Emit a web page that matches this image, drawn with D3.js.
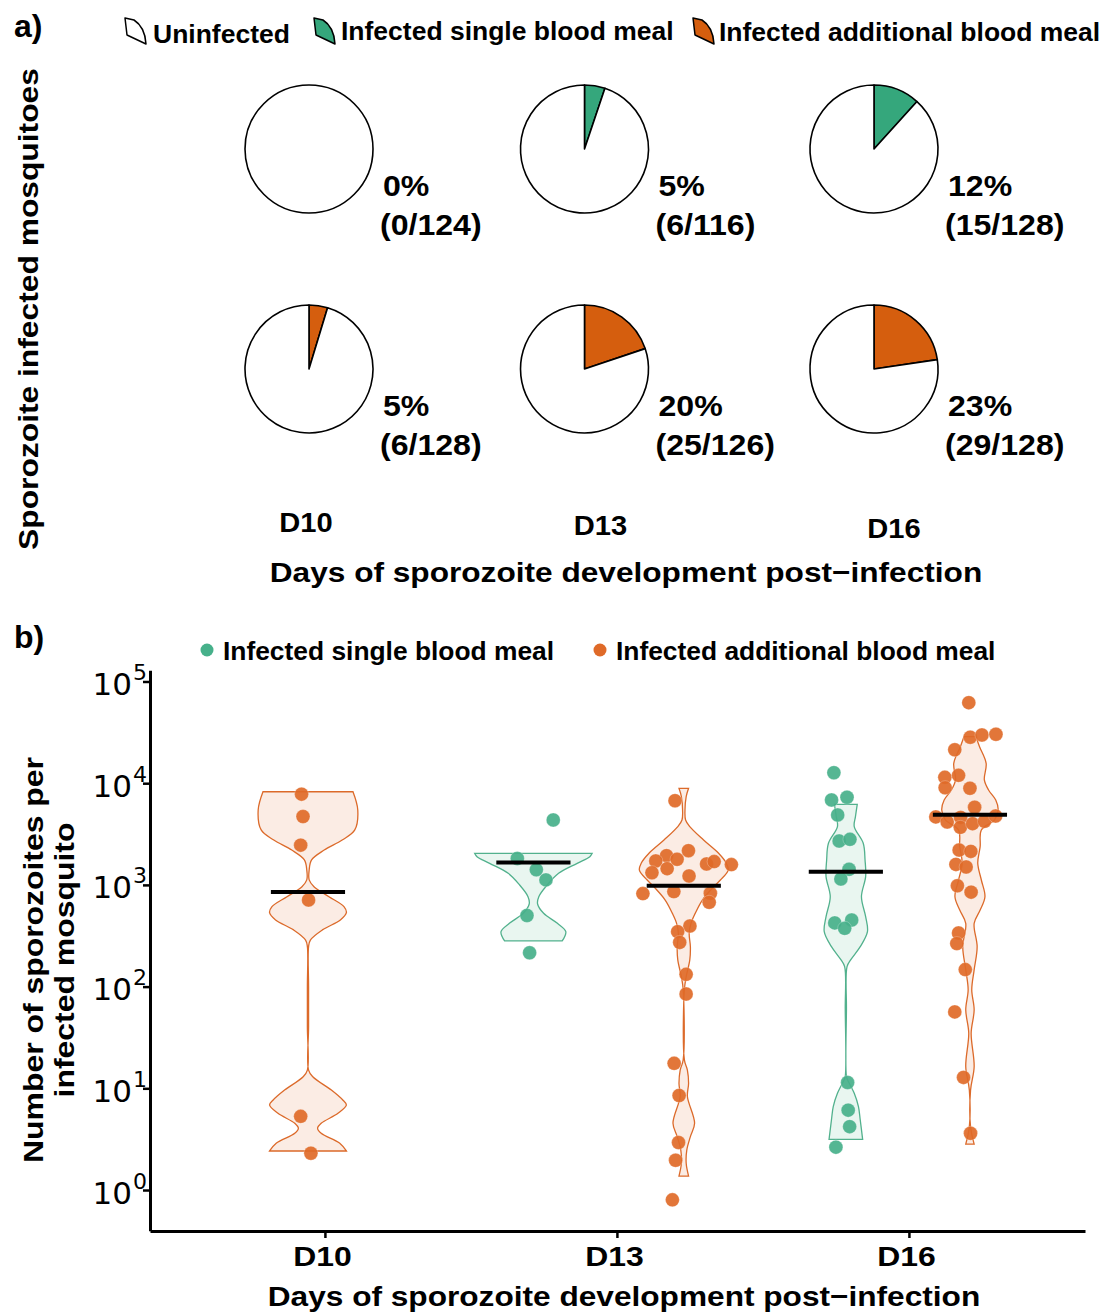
<!DOCTYPE html>
<html>
<head>
<meta charset="utf-8">
<script src="https://cdn.jsdelivr.net/npm/d3@7"></script>
<style>
  body { margin: 0; background: #fff; }
  svg { font-family: 'Liberation Sans', Arial, sans-serif; }
</style>
</head>
<body>
<div id="chart"></div>
<script>
// ---- data ----
var days = ['D10', 'D13', 'D16'];

// panel a: sporozoite infected / dissected
var singleInfected = [0, 6, 15];
var singleTotal = [124, 116, 128];
var additionalInfected = [6, 25, 29];
var additionalTotal = [128, 126, 128];

// panel b: sporozoites per infected mosquito [value, x jitter]
var d10AddPts = [[7800,-0.022],[4700,-0.017],[2460,-0.025],[710,0.002],[5.3,-0.025],[2.3,0.010]];
var d13SinglePts = [[4350,0.068],[1820,-0.055],[1410,0.010],[1120,0.043],[500,-0.022],[215,-0.013]];
var d13AddPts = [[6730,-0.030],[2170,0.016],[1940,-0.059],[1720,-0.096],[1785,-0.023],[1607,0.078],
  [1695,0.104],[1583,0.163],[1318,-0.109],[1445,-0.057],[1224,0.018],[821,-0.140],[859,-0.034],
  [827,0.091],[674,0.087],[394,0.021],[347,-0.021],[272,-0.014],[132,0.008],[84.5,0.008],
  [17.6,-0.033],[8.5,-0.016],[2.93,-0.018],[1.96,-0.028],[0.80,-0.039]];
var d16SinglePts = [[12680,-0.041],[6840,-0.049],[7270,0.004],[4870,-0.028],[2700,-0.023],
  [2806,0.014],[1423,0.011],[1143,-0.017],[423,-0.038],[451,0.020],[374,-0.004],[11.4,0.006],
  [6.1,0.008],[4.2,0.013],[2.64,-0.034]];
var d16AddPts = [[61900,-0.004],[28300,0.001],[29800,0.041],[30270,0.089],[21300,-0.052],
  [11420,-0.086],[11950,-0.039],[9030,-0.085],[8910,0],[5800,0.016],[4660,-0.117],[4160,-0.078],
  [4610,-0.032],[3680,-0.033],[4000,0.009],[4215,0.050],[4755,0.088],[2200,-0.037],[2135,0.003],
  [1590,-0.048],[1500,-0.013],[980,-0.043],[849,0.004],[337,-0.039],[265,-0.045],[147,-0.016],
  [56.4,-0.052],[12.8,-0.022],[3.61,0.002]];

// violin outlines [value, relative density]
var d10AddViolin = [[8240,0.75],[5460,0.83],[3470,0.78],[2760,0.57],[2200,0.27],[1760,0.06],
  [1400,0.02],[1120,0.02],[960,0.10],[766,0.35],[611,0.60],[533,0.64],[452,0.54],[361,0.24],
  [287,0.04],[247,0.01],[100,0.01],[40,0.01],[15.1,0.01],[13.0,0.08],[9.6,0.39],[7.67,0.58],
  [6.85,0.64],[5.68,0.5],[4.53,0.22],[4.05,0.16],[3.61,0.22],[2.88,0.53],[2.42,0.64]];
var d13SingleViolin = [[2046,0.98],[1895,0.94],[1630,0.73],[1300,0.42],[998,0.23],[766,0.09],
  [649,0.07],[526,0.17],[419,0.40],[347,0.54],[281,0.48]];
var d13AddViolin = [[8910,0.08],[7380,0.04],[5460,0.02],[4350,0.03],[3740,0.10],[2760,0.33],
  [2045,0.58],[1630,0.71],[1400,0.74],[1117,0.61],[961,0.50],[710,0.31],[525,0.19],[419,0.12],
  [334,0.09],[247,0.11],[183,0.10],[125,0.04],[93,0.01],[19,0.01],[15.1,0.06],[11.2,0.08],
  [8.3,0.06],[4.53,0.18],[3.35,0.11],[2.47,0.05],[1.83,0.04],[1.37,0.08]];
var d16SingleViolin = [[6200,0.19],[4690,0.16],[3740,0.14],[2565,0.29],[1757,0.32],[1206,0.33],
  [766,0.26],[487,0.33],[347,0.36],[247,0.24],[183,0.08],[157,0.02],[60,0.01],[13.0,0.01],
  [12.1,0.03],[8.93,0.14],[6.61,0.21],[4.88,0.24],[3.15,0.28]];
var d16AddViolin = [[28640,0.10],[22860,0.16],[15670,0.27],[10760,0.24],[8570,0.31],[6840,0.43],
  [5460,0.47],[4350,0.41],[3470,0.19],[2380,0.17],[1630,0.13],[1117,0.19],[766,0.25],[566,0.17],
  [419,0.07],[247,0.12],[146,0.07],[93,0.03],[59,0.07],[34.8,0.02],[16.3,0.07],[9.6,0.01],
  [4.2,0.01],[2.83,0.07]];

var medians = [850, 1660, 982, 1349, 4900];
var yTicks = [1, 10, 100, 1000, 10000, 100000];

// ---- layout ----
var svgWidth = 1114, svgHeight = 1312;
var green = '#35a77c', orange = '#d55e0e';
var ptGreen = '#46b08a', ptOrange = '#df6a28';
var font = "'Liberation Sans', Arial, sans-serif";

var svg = d3.select('#chart').append('svg')
  .attr('width', svgWidth).attr('height', svgHeight);

// bold text, stretched a bit horizontally like the original figure
function label(parent, x, y, str, size, sx, anchor, rot) {
  return parent.append('text')
    .attr('transform', 'translate(' + x + ',' + y + ')' + (rot ? ' rotate(' + rot + ')' : '') + ' scale(' + sx + ',1)')
    .attr('text-anchor', anchor || 'start')
    .attr('font-family', font).attr('fill', '#000')
    .attr('font-size', size).attr('font-weight', 'bold')
    .text(str);
}

// ===== panel a =====
label(svg, 14, 37, 'a)', 32, 1);

var wedge = 'M0,0 L9,2 Q20,9 21,26 L2,17 Z';
var legendA = [
  {label: 'Uninfected', fill: '#fff', x: 125, tx: 153, ty: 43},
  {label: 'Infected single blood meal', fill: green, x: 314, tx: 341, ty: 40},
  {label: 'Infected additional blood meal', fill: orange, x: 693, tx: 719, ty: 41}
];
legendA.forEach(function(d){
  svg.append('path').attr('d', wedge)
    .attr('transform', 'translate(' + d.x + ',18)')
    .attr('fill', d.fill)
    .attr('stroke', '#000').attr('stroke-width', 1.5).attr('stroke-linejoin', 'round');
  label(svg, d.tx, d.ty, d.label, 25, 1.06);
});

var pieX = d3.scalePoint().domain(days).range([309, 876]);
var pieNudge = [0, -8, -2];
var pieRows = [
  {y: 149, inf: singleInfected, tot: singleTotal, color: green},
  {y: 369, inf: additionalInfected, tot: additionalTotal, color: orange}
];
var pie = d3.pie().sort(null).value(function(d){ return d.v; });
var arc = d3.arc().innerRadius(0).outerRadius(64);

pieRows.forEach(function(row){
  days.forEach(function(day, i){
    var cx = pieX(day) + pieNudge[i];
    var g = svg.append('g').attr('transform', 'translate(' + cx + ',' + row.y + ')');
    var slices = [{v: row.inf[i], c: row.color}, {v: row.tot[i] - row.inf[i], c: '#fff'}]
      .filter(function(d){ return d.v > 0; });
    if (slices.length === 1) {
      g.append('circle').attr('r', 64).attr('fill', slices[0].c)
        .attr('stroke', '#000').attr('stroke-width', 1.6);
    } else {
      g.selectAll('path').data(pie(slices)).enter().append('path')
        .attr('d', arc).attr('fill', function(d){ return d.data.c; })
        .attr('stroke', '#000').attr('stroke-width', 1.6).attr('stroke-linejoin', 'round');
    }
    var pct = Math.round(row.inf[i] / row.tot[i] * 100);
    label(g, 74, 47, pct + '%', 30, 1.07);
    label(g, 71, 86, '(' + row.inf[i] + '/' + row.tot[i] + ')', 30, 1.07);
  });
});

var dayLabelNudge = [-3, 16, 20];
days.forEach(function(d, i){
  label(svg, pieX(d) + pieNudge[i] + dayLabelNudge[i], 532 + i * 3, d, 28, 1.04, 'middle');
});

label(svg, 626, 582, 'Days of sporozoite development post\u2212infection', 28, 1.13, 'middle');
label(svg, 38, 309, 'Sporozoite infected mosquitoes', 28, 1.135, 'middle', -90);

// ===== panel b =====
label(svg, 14, 648, 'b)', 32, 1);

var legendB = [
  {label: 'Infected single blood meal', color: ptGreen, x: 207},
  {label: 'Infected additional blood meal', color: ptOrange, x: 600}
];
legendB.forEach(function(d){
  svg.append('circle').attr('cx', d.x).attr('cy', 650).attr('r', 6.5).attr('fill', d.color);
  label(svg, d.x + 16, 660, d.label, 25, 1.055);
});

var x = d3.scaleLinear().domain([-0.599, 2.603]).range([150, 1085]);
var y = d3.scaleLog().domain([Math.pow(10, -0.4), Math.pow(10, 5.11)]).range([1230.7, 670.3]);
var wScale = d3.scaleLinear().domain([0, 1]).range([0, 60]);

var groups = [
  {day: 0, dodge: -0.058, pts: d10AddPts, violin: d10AddViolin, med: medians[0], stroke: '#dc6a2a', fill: '#fbece4', pt: ptOrange},
  {day: 1, dodge: -0.286, pts: d13SinglePts, violin: d13SingleViolin, med: medians[1], stroke: '#52b18d', fill: '#e9f6f0', pt: ptGreen},
  {day: 1, dodge: 0.229, pts: d13AddPts, violin: d13AddViolin, med: medians[2], stroke: '#dc6a2a', fill: '#fbece4', pt: ptOrange},
  {day: 2, dodge: -0.216, pts: d16SinglePts, violin: d16SingleViolin, med: medians[3], stroke: '#52b18d', fill: '#e9f6f0', pt: ptGreen},
  {day: 2, dodge: 0.209, pts: d16AddPts, violin: d16AddViolin, med: medians[4], stroke: '#dc6a2a', fill: '#fbece4', pt: ptOrange}
];

var plot = svg.append('g');
groups.forEach(function(gr){
  var cx = x(gr.day + gr.dodge);
  var area = d3.area().curve(d3.curveCatmullRom)
    .y(function(d){ return y(d[0]); })
    .x0(function(d){ return cx - wScale(d[1]); })
    .x1(function(d){ return cx + wScale(d[1]); });
  plot.append('path').datum(gr.violin).attr('d', area)
    .attr('fill', gr.fill).attr('stroke', gr.stroke).attr('stroke-width', 1.3);
});
groups.forEach(function(gr){
  plot.append('g').selectAll('circle').data(gr.pts).enter().append('circle')
    .attr('cx', function(d){ return x(gr.day + gr.dodge + d[1]); })
    .attr('cy', function(d){ return y(d[0]); })
    .attr('r', 7)
    .attr('fill', gr.pt).attr('fill-opacity', 0.92)
    .attr('stroke', '#fff').attr('stroke-opacity', 0.25).attr('stroke-width', 1);
});
groups.forEach(function(gr){
  var c = gr.day + gr.dodge;
  plot.append('line')
    .attr('x1', x(c - 0.127)).attr('x2', x(c + 0.127))
    .attr('y1', y(gr.med)).attr('y2', y(gr.med))
    .attr('stroke', '#000').attr('stroke-width', 4);
});

// axes
var yAxis = d3.axisLeft(y).tickValues(yTicks).tickSize(7).tickSizeOuter(0).tickPadding(-4)
  .tickFormat(function(){ return '10'; });
var yg = svg.append('g').attr('transform', 'translate(150,0)').call(yAxis);
yg.select('.domain').attr('stroke-width', 3);
yg.selectAll('.tick line').attr('stroke-width', 2.5);
yg.selectAll('.tick text').attr('font-size', 31).attr('font-family', "'DejaVu Sans', sans-serif")
  .attr('fill', '#000').attr('dy', '0.42em')
  .each(function(d){
    d3.select(this).append('tspan').attr('dy', -15).attr('dx', 1).attr('font-size', 22)
      .text(Math.round(Math.log10(d)));
  });

var xAxis = d3.axisBottom(x).tickValues([0, 1, 2]).tickSize(7).tickSizeOuter(0).tickPadding(6)
  .tickFormat(function(d){ return days[d]; });
var xg = svg.append('g').attr('transform', 'translate(0,1231)').call(xAxis);
xg.select('.domain').attr('stroke-width', 3);
xg.selectAll('.tick line').attr('stroke-width', 2.5);
xg.selectAll('.tick text').remove();
xg.selectAll('.tick').each(function(d){
  label(d3.select(this), -3, 35, days[d], 28, 1.14, 'middle');
});

label(svg, 624, 1306, 'Days of sporozoite development post\u2212infection', 28, 1.13, 'middle');

var yTitle = label(svg, 43, 960, '', 28, 1.14, 'middle', -90);
yTitle.append('tspan').attr('x', 0).attr('y', 0).text('Number of sporozoites per');
yTitle.append('tspan').attr('x', 0).attr('y', 31).text('infected mosquito');
</script>
</body>
</html>
